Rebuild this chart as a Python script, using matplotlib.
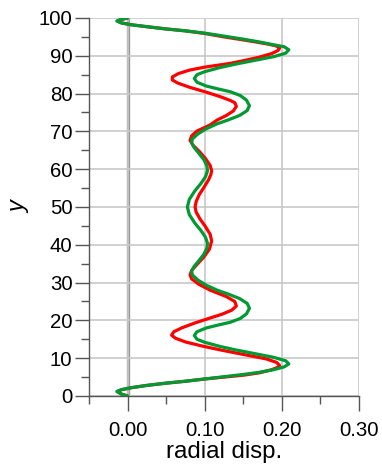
import numpy as np
import matplotlib
matplotlib.use("Agg")
import matplotlib.pyplot as plt
from matplotlib.ticker import MultipleLocator, FormatStrFormatter

plt.rcParams['font.family'] = ['Liberation Sans', 'DejaVu Sans']

# radial displacement along the height, two load cases
red_x = [0.000, -0.008, -0.013, -0.007, 0.005, 0.025, 0.050, 0.075, 0.100, 0.125,
         0.150, 0.170, 0.186, 0.195, 0.197, 0.193, 0.180, 0.165, 0.145, 0.120,
         0.095, 0.075, 0.062, 0.057, 0.060, 0.070, 0.087, 0.105, 0.122, 0.135,
         0.141, 0.139, 0.128, 0.107, 0.092, 0.083, 0.081, 0.083, 0.090, 0.099,
         0.106, 0.109, 0.107, 0.101, 0.094, 0.089, 0.0875, 0.089, 0.093, 0.099,
         0.105, 0.108, 0.109, 0.107, 0.101, 0.093, 0.085, 0.081, 0.083, 0.090,
         0.107, 0.116, 0.128, 0.137, 0.141, 0.139, 0.133, 0.120, 0.100, 0.080,
         0.065, 0.058, 0.058, 0.066, 0.080, 0.100, 0.120, 0.133, 0.150, 0.170,
         0.187, 0.195, 0.197, 0.193, 0.182, 0.165, 0.150, 0.125, 0.100, 0.075,
         0.050, 0.025, 0.005, -0.008, -0.013, -0.008, 0.000]
red_y = [0.0, 0.5, 1.2, 1.7, 2.2, 2.8, 3.4, 3.9, 4.5, 5.0,
         5.5, 6.1, 6.9, 7.6, 8.1, 8.9, 9.8, 10.4, 11.2, 12.2,
         13.3, 14.3, 15.3, 16.1, 17.0, 18.0, 19.3, 20.5, 21.6, 22.7,
         23.8, 25.0, 26.3, 28.0, 29.6, 31.0, 32.0, 33.2, 34.8, 36.8,
         38.8, 41.0, 42.8, 44.8, 46.8, 48.6, 50.0, 51.5, 53.3, 55.2,
         57.2, 58.6, 59.6, 61.0, 62.8, 64.7, 66.3, 67.6, 68.8, 70.1,
         71.7, 73.0, 74.2, 75.4, 76.6, 77.6, 78.2, 79.2, 80.5, 81.7,
         82.8, 83.6, 84.4, 85.3, 86.2, 87.0, 87.6, 88.0, 88.7, 89.6,
         90.6, 91.4, 92.0, 92.6, 93.1, 93.7, 94.2, 95.0, 95.9, 96.6,
         97.1, 97.7, 98.2, 98.7, 99.2, 99.6, 100.0]

green_x = [0.000, -0.008, -0.014, -0.008, 0.005, 0.025, 0.050, 0.075, 0.100, 0.125,
           0.150, 0.172, 0.190, 0.203, 0.209, 0.205, 0.190, 0.165, 0.140, 0.120,
           0.100, 0.090, 0.0865, 0.090, 0.102, 0.118, 0.133, 0.146, 0.154, 0.158,
           0.155, 0.145, 0.130, 0.116, 0.102, 0.091, 0.084, 0.083, 0.086, 0.092,
           0.099, 0.103, 0.1035, 0.101, 0.095, 0.087, 0.080, 0.0775, 0.080, 0.087,
           0.095, 0.101, 0.1035, 0.103, 0.099, 0.092, 0.086, 0.083, 0.084, 0.091,
           0.102, 0.116, 0.130, 0.145, 0.155, 0.158, 0.154, 0.146, 0.133, 0.118,
           0.102, 0.090, 0.0865, 0.090, 0.100, 0.120, 0.140, 0.165, 0.190, 0.205,
           0.209, 0.203, 0.187, 0.170, 0.150, 0.125, 0.100, 0.075, 0.050, 0.025,
           0.005, -0.008, -0.014, -0.009, 0.000]
green_y = [0.0, 0.5, 1.2, 1.7, 2.2, 2.8, 3.4, 3.9, 4.5, 5.1,
           5.7, 6.3, 7.0, 7.7, 8.5, 9.3, 10.2, 11.2, 12.2, 13.1,
           14.2, 15.0, 16.0, 17.0, 18.0, 18.8, 19.5, 20.5, 21.7, 23.2,
           24.5, 25.8, 27.0, 28.0, 29.3, 30.7, 32.0, 33.0, 34.2, 35.7,
           37.5, 39.2, 40.5, 42.0, 43.8, 45.8, 48.0, 50.0, 52.0, 54.2,
           56.2, 58.0, 59.5, 60.8, 62.5, 64.3, 65.8, 67.0, 68.0, 69.3,
           70.7, 72.0, 73.0, 74.2, 75.5, 76.8, 78.3, 79.5, 80.5, 81.2,
           82.0, 83.0, 84.0, 85.0, 85.8, 86.9, 87.8, 88.8, 89.8, 90.7,
           91.6, 92.4, 93.0, 93.7, 94.4, 95.2, 96.0, 96.6, 97.1, 97.7,
           98.2, 98.7, 99.2, 99.6, 100.0]

fig = plt.figure(figsize=(3.82, 4.65), dpi=100)
ax = fig.add_axes([0.233, 0.1484, 0.7068, 0.8129])

ax.set_xlim(-0.05, 0.30)
ax.set_ylim(0, 100)

ax.grid(True, which='major', color='#c8c8c8', linewidth=1.2, zorder=0)
ax.axvline(0, color='#999999', linewidth=2.4, zorder=1)

ax.plot(red_x, red_y, color='#ff0000', linewidth=2.3, solid_joinstyle='round',
        solid_capstyle='round', zorder=3)
ax.plot(green_x, green_y, color='#009933', linewidth=2.3, solid_joinstyle='round',
        solid_capstyle='round', zorder=4)

ax.xaxis.set_major_locator(MultipleLocator(0.1))
ax.xaxis.set_minor_locator(MultipleLocator(0.05))
ax.yaxis.set_major_locator(MultipleLocator(10))
ax.yaxis.set_minor_locator(MultipleLocator(5))
ax.xaxis.set_major_formatter(FormatStrFormatter('%.2f'))

ax.tick_params(axis='x', which='major', length=11, width=1, color='#555555',
               labelsize=14.7, pad=7)
ax.tick_params(axis='x', which='minor', length=5.5, width=1, color='#555555')
ax.tick_params(axis='y', which='major', length=10, width=1, color='#555555',
               labelsize=14.7, pad=2)
ax.tick_params(axis='y', which='minor', length=5.5, width=1, color='#555555')

for side in ['top', 'right']:
    ax.spines[side].set_visible(False)
for side in ['left', 'bottom']:
    ax.spines[side].set_color('#555555')
    ax.spines[side].set_linewidth(1)

ax.set_xlabel('radial disp.', fontsize=17.3, labelpad=1)
ax.set_ylabel('y', fontsize=17, style='italic', labelpad=6)

fig.savefig('out.png', dpi=100)
